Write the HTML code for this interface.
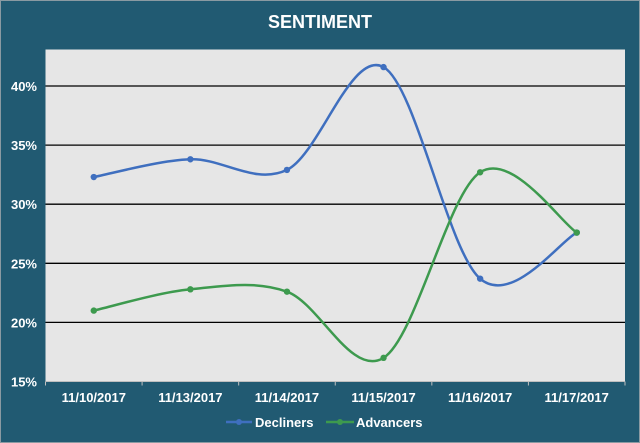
<!DOCTYPE html>
<html><head><meta charset="utf-8"><style>
html,body{margin:0;padding:0;background:#215a72;}
svg{display:block;font-family:"Liberation Sans",Arial,sans-serif;}
</style></head><body>
<svg id="chart" width="640" height="443" viewBox="0 0 640 443">
<rect x="0.5" y="0.5" width="639" height="442" fill="#215a72" stroke="#8a9aa2"/>
<text x="320" y="28" text-anchor="middle" fill="#fff" font-size="18" font-weight="bold">SENTIMENT</text>
<rect x="45.5" y="49.5" width="579.5" height="332" fill="#e6e6e6"/>
<g id="grid"></g><g id="yticks"></g><g id="xticks"></g><g id="series"></g>
<g>
<g>
<line x1="226" y1="422" x2="252" y2="422" stroke="#3f6fbf" stroke-width="2.5"/><circle cx="239" cy="422" r="3" fill="#3f6fbf"/>
<text x="255" y="427" fill="#fff" font-size="13" font-weight="bold">Decliners</text></g>
<g>
<line x1="326" y1="422" x2="354" y2="422" stroke="#3d9a4e" stroke-width="2.5"/><circle cx="340" cy="422" r="3" fill="#3d9a4e"/>
<text x="356" y="427" fill="#fff" font-size="13" font-weight="bold">Advancers</text></g>
</g>
</svg>
<script>
const categories=["11/10/2017","11/13/2017","11/14/2017","11/15/2017","11/16/2017","11/17/2017"];
const decliners=[32.3,33.8,32.9,41.6,23.7,27.6];
const advancers=[21.0,22.8,22.6,17.0,32.7,27.6];
const yTicks=[15,20,25,30,35,40];
const NS="http://www.w3.org/2000/svg";
const L=45.5,R=625,B=381.5;
function y(v){return B-(v-15)*11.82;}
function x(i){return L+(R-L)/categories.length*(i+0.5);}
function mk(t,a,p){const e=document.createElementNS(NS,t);for(const k in a)e.setAttribute(k,a[k]);p.appendChild(e);return e;}
const g=document.getElementById('grid'),yt=document.getElementById('yticks'),xt=document.getElementById('xticks'),s=document.getElementById('series');
yTicks.forEach(v=>{
 if(v>15){const ln=mk('line',{x1:L,x2:R,y1:y(v),y2:y(v),stroke:'#000','stroke-width':1.3},g);
 
 }
 const t=mk('text',{x:37,y:y(v)+5,'text-anchor':'end',fill:'#fff','font-size':13,'font-weight':'bold'},yt);
 t.textContent=v+'%';
 
 
});
mk('line',{x1:L,x2:R,y1:B,y2:B,stroke:'#bfbfbf','stroke-width':1},xt);
for(let i=0;i<=categories.length;i++){const xx=L+(R-L)/categories.length*i;mk('line',{x1:xx,x2:xx,y1:B,y2:B+4,stroke:'#bfbfbf'},xt);}
categories.forEach((c,i)=>{
 const t=mk('text',{x:x(i),y:402,'text-anchor':'middle',fill:'#fff','font-size':13,'font-weight':'bold'},xt);
 t.textContent=c;
 
 
});
function path(vals){
 const p=vals.map((v,i)=>[x(i),y(v)]);let d='M'+p[0][0]+','+p[0][1];const k=1/6*1.0;
 for(let i=0;i<p.length-1;i++){const p0=p[Math.max(0,i-1)],p1=p[i],p2=p[i+1],p3=p[Math.min(p.length-1,i+2)];
 const c1=[p1[0]+(p2[0]-p0[0])*k,p1[1]+(p2[1]-p0[1])*k],c2=[p2[0]-(p3[0]-p1[0])*k,p2[1]-(p3[1]-p1[1])*k];
 d+=' C'+c1+' '+c2+' '+p2;}
 return d;}
[[decliners,'#3f6fbf','decliners'],[advancers,'#3d9a4e','advancers']].forEach(([vals,col,nm])=>{
 const pa=mk('path',{d:path(vals),fill:'none',stroke:col,'stroke-width':2.5},s);
 
 
 vals.forEach((v,i)=>{const c=mk('circle',{cx:x(i),cy:y(v),r:3.2,fill:col},s);
 
 });
});
</script>
</body></html>
